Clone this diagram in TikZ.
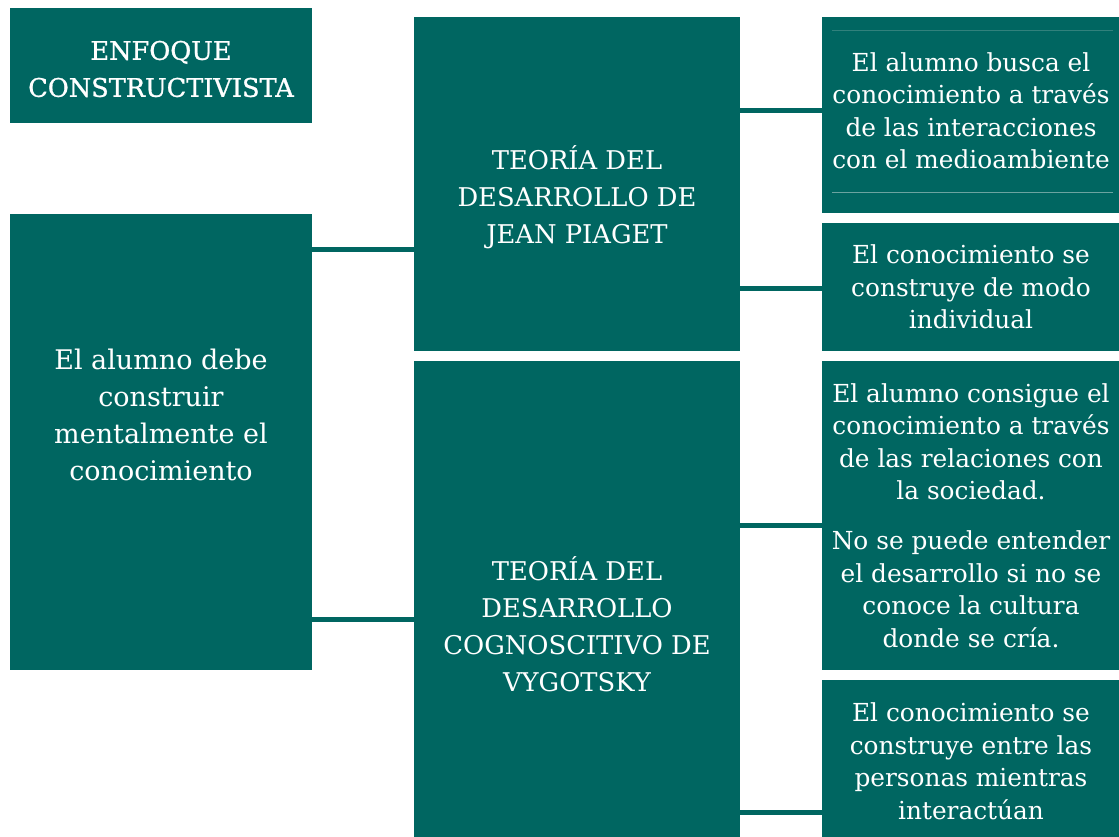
\documentclass[tikz,border=0pt]{standalone}
\usepackage{fontspec}
\setmainfont{DejaVu Serif}
\newfontfamily\ttlfont[FakeBold=1.0]{DejaVu Serif}
\definecolor{teal1}{RGB}{0,102,97}
\definecolor{tealline}{RGB}{70,140,136}
\begin{document}
\begin{tikzpicture}[x=1pt,y=-1pt,
  box/.style={fill=teal1, draw=none, inner sep=0pt, anchor=north west},
  txt/.style={text=white, align=center, inner sep=0pt, font=\fontsize{24.8}{32.5}\selectfont},
  ttl/.style={text=white, align=center, inner sep=0pt, font=\ttlfont\fontsize{25.6}{37}\selectfont},
  big/.style={text=white, align=center, inner sep=0pt, font=\fontsize{25.8}{37}\selectfont},
  bigl/.style={text=white, align=center, inner sep=0pt, font=\fontsize{27}{37}\selectfont},
  link/.style={draw=teal1, line width=5pt}]
\useasboundingbox (0,0) rectangle (1119,837);
% boxes
\node[box, minimum width=302, minimum height=115] (T) at (10,8) {};
\node[box, minimum width=302, minimum height=456] (L) at (10,214) {};
\node[box, minimum width=326, minimum height=334] (P) at (414,17) {};
\node[box, minimum width=326, minimum height=476] (V) at (414,361) {};
\node[box, minimum width=297, minimum height=196] (R1) at (822,17) {};
\node[box, minimum width=297, minimum height=128] (R2) at (822,223) {};
\node[box, minimum width=297, minimum height=309] (R3) at (822,361) {};
\node[box, minimum width=297, minimum height=157] (R4) at (822,680) {};
% faint lines in R1
\draw[tealline!70!teal1, line width=0.6pt] (832,30) -- (1113,30);
\draw[tealline!80!white, line width=1pt] (832,193) -- (1113,193);
% texts
\node[ttl] (Tt) at (161,69) {ENFOQUE\\CONSTRUCTIVISTA};
\node[bigl] (Lt) at (161,415) {El alumno debe\\construir\\mentalmente el\\conocimiento};
\node[big] (Pt) at (577,197) {TEORÍA DEL\\DESARROLLO DE\\JEAN PIAGET};
\node[big] (Vt) at (577,624) {TEORÍA DEL\\DESARROLLO\\COGNOSCITIVO DE\\VYGOTSKY};
\node[txt] (R1t) at (971,111) {El alumno busca el\\conocimiento a través\\de las interacciones\\con el medioambiente};
\node[txt] (R2t) at (971,287) {El conocimiento se\\construye de modo\\individual};
\node[txt] (R3a) at (971,442) {El alumno consigue el\\conocimiento a través\\de las relaciones con\\la sociedad.};
\node[txt] (R3b) at (971,589) {No se puede entender\\el desarrollo si no se\\conoce la cultura\\donde se cría.};
\node[txt] (R4t) at (971,761) {El conocimiento se\\construye entre las\\personas mientras\\interactúan};
% connectors
\draw[link] (L.east |- 0,249) -- (P.west |- 0,249);
\draw[link] (L.east |- 0,619) -- (V.west |- 0,619);
\draw[link] (P.east |- 0,111) -- (R1.west |- 0,111);
\draw[link] (P.east |- 0,288) -- (R2.west |- 0,288);
\draw[link] (V.east |- 0,525) -- (R3.west |- 0,525);
\draw[link] (V.east |- 0,812) -- (R4.west |- 0,812);
\end{tikzpicture}
\end{document}
